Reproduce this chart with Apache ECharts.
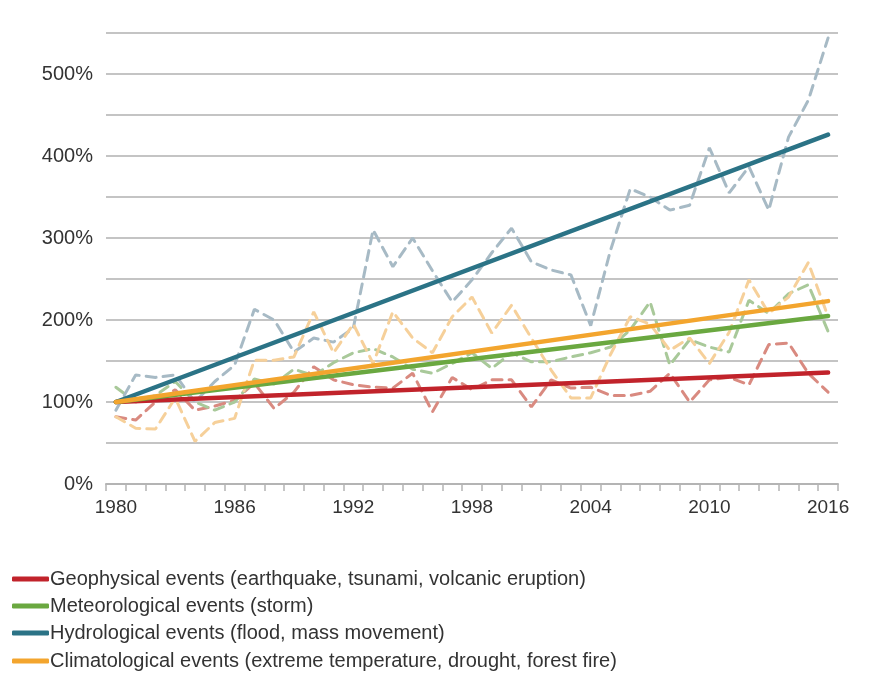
<!DOCTYPE html>
<html>
<head>
<meta charset="utf-8">
<script src="https://cdn.jsdelivr.net/npm/echarts@6/dist/echarts.min.js"></script>
<style>
html,body{margin:0;padding:0;background:#fff;}
#chart{width:875px;height:681px;}
</style>
</head>
<body>
<div id="chart"></div>
<script>
const years = [];
for (let y = 1980; y <= 2016; y++) years.push(String(y));

// Annual values (index, 1980 = 100%)
const geophysical   = [82,78,100,115,90,95,102,123,92,112,143,127,121,118,117,135,88,130,115,127,127,94,127,117,118,108,108,113,135,100,127,130,121,170,172,135,112];
const meteorological= [118,100,108,125,100,90,100,128,122,140,132,148,160,165,155,140,135,147,160,141,160,149,149,155,160,167,188,222,145,176,167,161,224,208,232,243,186];
const hydrological  = [90,133,130,133,100,125,145,213,200,161,178,173,190,310,265,300,260,222,249,282,312,271,261,255,193,285,360,350,334,340,410,355,387,334,423,468,544];
const climatological= [82,68,67,105,52,75,80,151,151,155,210,160,195,147,210,178,160,204,228,184,218,178,139,105,105,158,204,195,163,178,147,185,249,208,228,270,204];

// Trend lines: start (1980) and end (2016) values
const trendGeo   = [100,136];
const trendMet   = [100,205];
const trendHyd   = [100,426];
const trendClim  = [100,223];

const names = [
  'Geophysical events (earthquake, tsunami, volcanic eruption)',
  'Meteorological events (storm)',
  'Hydrological events (flood, mass movement)',
  'Climatological events (extreme temperature, drought, forest fire)'
];
const solidColors = ['#c1232b','#6aa840','#2b7386','#f3a52e'];
const dashColors  = ['#d98a80','#a9c99a','#a7bac5','#f6d09a'];
const annual = [geophysical, meteorological, hydrological, climatological];
const trends = [trendGeo, trendMet, trendHyd, trendClim];

const series = [];
annual.forEach((d, i) => {
  series.push({
    name: names[i] + ' annual',
    type: 'line',
    data: d,
    symbol: 'none',
    z: 2,
    lineStyle: {color: dashColors[i], width: 3, type: [10,7], cap: 'round'},
    itemStyle: {color: dashColors[i]},
    silent: true
  });
});
trends.forEach((t, i) => {
  series.push({
    name: names[i],
    type: 'line',
    data: [[years[0], t[0]], [years[years.length-1], t[1]]],
    symbol: 'none',
    z: 5,
    lineStyle: {color: solidColors[i], width: 4.5, cap: 'round'},
    itemStyle: {color: solidColors[i]}
  });
});

const legendTops = [569, 596, 623, 651];
const legends = names.map((n, i) => ({
  data: [{name: n, icon: 'roundRect'}],
  orient: 'horizontal',
  left: 12,
  top: legendTops[i],
  padding: 0,
  itemWidth: 37,
  itemHeight: 5,
  textStyle: {fontSize: 20, color: '#333', fontFamily: 'Liberation Sans, Arial, sans-serif', padding: [0,0,0,-4]},
  selectedMode: false
}));

const chart = echarts.init(document.getElementById('chart'));
chart.setOption({
  animation: false,
  backgroundColor: '#fff',
  grid: {left: 106, right: 37, top: 33, bottom: 197, containLabel: false},
  legend: legends,
  xAxis: {
    type: 'category',
    data: years,
    boundaryGap: true,
    axisLine: {lineStyle: {color: '#b4b4b4', width: 2}},
    axisTick: {show: true, interval: 0, length: 7, lineStyle: {color: '#b4b4b4', width: 1.5}},
    axisLabel: {
      interval: function (idx) { return idx % 6 === 0; },
      margin: 14,
      fontSize: 19,
      color: '#333',
      fontFamily: 'Liberation Sans, Arial, sans-serif'
    },
    splitLine: {show: false}
  },
  yAxis: {
    type: 'value',
    min: 0,
    max: 550,
    interval: 50,
    axisLine: {show: false},
    axisTick: {show: false},
    axisLabel: {
      formatter: function (v) { return v % 100 === 0 ? v + '%' : ''; },
      margin: 13,
      fontSize: 20,
      color: '#333',
      fontFamily: 'Liberation Sans, Arial, sans-serif'
    },
    splitLine: {lineStyle: {color: '#c4c4c4', width: 2}}
  },
  series: series
});
</script>
</body>
</html>
